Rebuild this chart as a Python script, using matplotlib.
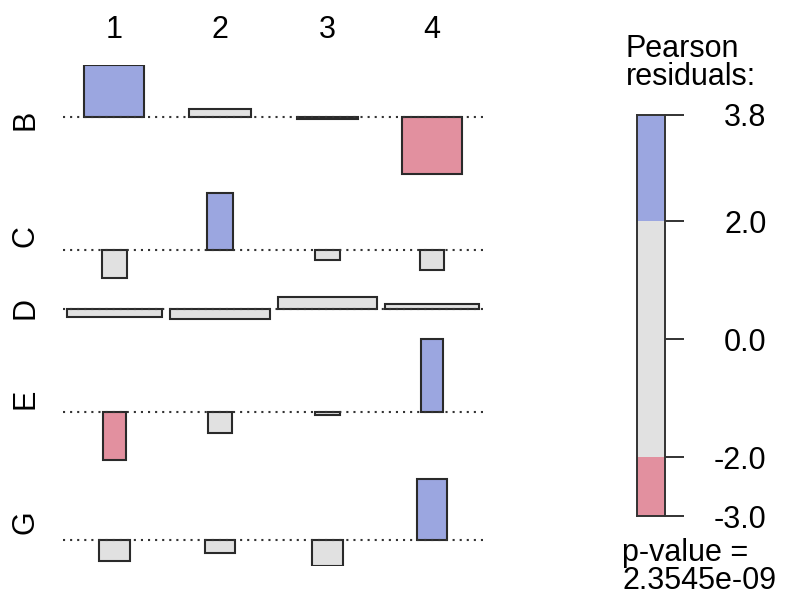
import matplotlib
matplotlib.use("Agg")
import matplotlib.pyplot as plt
import matplotlib.transforms as mtransforms
import numpy as np

plt.rcParams['font.family'] = ['Liberation Sans', 'DejaVu Sans']

# association plot data: Pearson residuals and expected counts
rows = ['B', 'C', 'D', 'E', 'G']
cols = ['1', '2', '3', '4']
residuals = np.array([
    [2.72, 0.42, -0.10, -2.95],
    [-1.46, 2.97, -0.52, -1.05],
    [-0.42, -0.52, 0.63, 0.26],
    [-2.50, -1.10, -0.16, 3.80],
    [-1.10, -0.68, -1.36, 3.18],
])
expected = np.array([
    [225, 240, 233, 218],
    [42, 42, 39, 36],
    [564, 625, 613, 552],
    [33, 36, 39, 30],
    [60, 60, 60, 56],
])
legend_ticks = [3.8, 2.0, 0.0, -2.0, -3.0]
p_value = "2.3545e-09"

blue = '#9ba6e0'
red = '#e2909f'
grey = '#e1e1e1'
edge = '#2a2a2a'

W, H = 789, 595
fig = plt.figure(figsize=(W / 100, H / 100), dpi=100)

# layout: widths ~ sqrt(expected), heights ~ residuals
px_x = 4.0      # pixels per sqrt(expected) unit
px_y = 19.2     # pixels per residual unit
gap_x = 2.0
gap_y = 1.0

widths = np.sqrt(expected)
colmax = widths.max(axis=0)
pos = np.clip(residuals, 0, None).max(axis=1)
neg = np.clip(-residuals, 0, None).max(axis=1)
rowh = pos + neg

xc = []
x = gap_x / 2
for w in colmax:
    xc.append(x + w / 2)
    x += w + gap_x
xtot = x
ytot = rowh.sum() + gap_y * (len(rows) - 1)

ax_w = xtot * px_x
ax_h = ytot * px_y
left_px, top_px = 63, 65
ax = fig.add_axes([left_px / W, 1 - (top_px + ax_h) / H, ax_w / W, ax_h / H])
ax.set_xlim(0, xtot)
ax.set_ylim(0, ytot)
ax.axis('off')

trow = mtransforms.blended_transform_factory(ax.transAxes, ax.transData)
y = ytot
for i, r in enumerate(rows):
    base = y - pos[i]
    cols_c = [blue if v > 2 else (red if v < -2 else grey) for v in residuals[i]]
    ax.bar(xc, residuals[i], width=widths[i], bottom=base, color=cols_c,
           edgecolor=edge, linewidth=1.5, zorder=2)
    ax.plot([0, xtot], [base, base], color='#333333', lw=1.5,
            ls=(0, (1.0, 2.4)), zorder=3, solid_capstyle='butt')
    ax.text(-37 / ax_w, y - rowh[i] / 2, r, transform=trow, rotation=90,
            ha='center', va='center', fontsize=22)
    y -= rowh[i] + gap_y

tcol = mtransforms.blended_transform_factory(ax.transData, ax.transAxes)
for j, c in enumerate(cols):
    ax.text(xc[j], 1 + 35 / ax_h, c, transform=tcol, ha='center',
            va='center', fontsize=22)

# shading legend
lax = fig.add_axes([637 / W, (H - 516) / H, 28 / W, 401 / H])
lax.set_xlim(0, 1)
lax.set_ylim(min(legend_ticks), max(legend_ticks))
lax.axhspan(2, max(legend_ticks), color=blue, lw=0)
lax.axhspan(-2, 2, color=grey, lw=0)
lax.axhspan(min(legend_ticks), -2, color=red, lw=0)
for s in lax.spines.values():
    s.set_color('#333333')
    s.set_linewidth(1.4)
lax.set_xticks([])
lax.set_yticks(legend_ticks)
lax.set_yticklabels(['%.1f' % t for t in legend_ticks])
lax.yaxis.tick_right()
lax.tick_params(axis='y', length=13.7, width=1.3, color='#222222',
                pad=59.5, labelsize=22)
for lab in lax.get_yticklabels():
    lab.set_ha('right')

fig.text(626 / W, 1 - 34 / H, "Pearson\nresiduals:", ha='left', va='top',
         fontsize=22, linespacing=0.92)
fig.text(622 / W, 1 - 538 / H, "p-value =\n" + p_value, ha='left', va='top',
         fontsize=22, linespacing=0.92)

fig.savefig('out.png', dpi=100)
